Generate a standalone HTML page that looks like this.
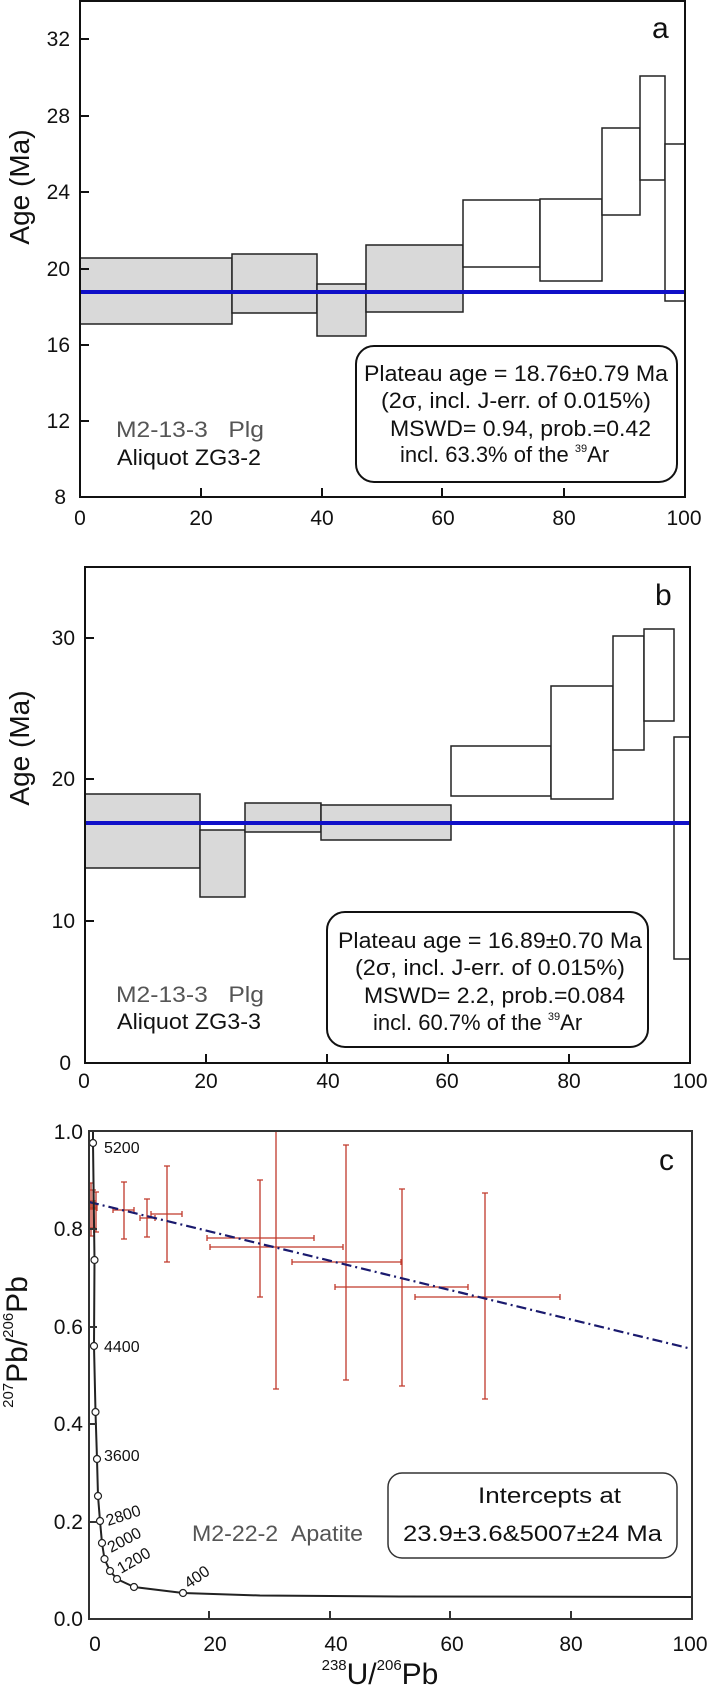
<!DOCTYPE html>
<html><head><meta charset="utf-8"><style>
html,body{margin:0;padding:0;background:#fff;}
svg{display:block;}
text{font-family:"Liberation Sans Narrow","Liberation Sans",sans-serif;fill:#111;}
</style></head><body>
<svg width="708" height="1688" viewBox="0 0 708 1688" xmlns="http://www.w3.org/2000/svg">
<!-- ===== Panel a ===== -->
<g stroke="#222" stroke-width="1.5" fill="#d9d9d9">
<rect x="80" y="258" width="152" height="66"/>
<rect x="232" y="254" width="85" height="59"/>
<rect x="317" y="284" width="49" height="52"/>
<rect x="366" y="245" width="97" height="67"/>
</g>
<g stroke="#222" stroke-width="1.5" fill="#fff">
<rect x="463" y="200" width="77" height="67"/>
<rect x="540" y="199" width="62" height="82"/>
<rect x="602" y="128" width="38" height="87"/>
<rect x="640" y="76" width="25" height="104"/>
<rect x="665" y="144" width="20" height="157"/>
</g>
<line x1="80" y1="292" x2="685" y2="292" stroke="#1010c8" stroke-width="4"/>
<rect x="80" y="1" width="605" height="496" fill="none" stroke="#111" stroke-width="2"/>
<g stroke="#111" stroke-width="2">
<line x1="80" y1="39" x2="89" y2="39"/><line x1="80" y1="116" x2="89" y2="116"/><line x1="80" y1="192" x2="89" y2="192"/><line x1="80" y1="269" x2="89" y2="269"/><line x1="80" y1="345" x2="89" y2="345"/><line x1="80" y1="421" x2="89" y2="421"/>
<line x1="201" y1="497" x2="201" y2="488"/><line x1="322" y1="497" x2="322" y2="488"/><line x1="442" y1="497" x2="442" y2="488"/><line x1="564" y1="497" x2="564" y2="488"/>
</g>
<g font-size="21" text-anchor="end">
<text x="70" y="46">32</text><text x="70" y="123">28</text><text x="70" y="199">24</text><text x="70" y="276">20</text><text x="70" y="352">16</text><text x="70" y="428">12</text><text x="66" y="504">8</text>
</g>
<g font-size="21" text-anchor="middle">
<text x="80" y="525">0</text><text x="201" y="525">20</text><text x="322" y="525">40</text><text x="443" y="525">60</text><text x="564" y="525">80</text><text x="684" y="525">100</text>
</g>
<text transform="translate(29,187) rotate(-90)" font-size="28" text-anchor="middle" font-family="Liberation Sans, sans-serif">Age (Ma)</text>
<text x="652" y="38" font-size="30" font-family="Liberation Sans, sans-serif">a</text>
<rect x="356" y="346" width="321" height="136" rx="18" fill="none" stroke="#111" stroke-width="2"/>
<g font-size="22">
<text x="364" y="381" textLength="304" lengthAdjust="spacingAndGlyphs">Plateau age = 18.76±0.79 Ma</text>
<text x="381" y="408" textLength="270" lengthAdjust="spacingAndGlyphs">(2σ, incl. J-err. of 0.015%)</text>
<text x="390" y="436" textLength="261" lengthAdjust="spacingAndGlyphs">MSWD= 0.94, prob.=0.42</text>
<text x="400" y="462">incl. 63.3% of the <tspan font-size="11" dy="-10">39</tspan><tspan dy="10">Ar</tspan></text>
<text x="116" y="437" style="fill:#555" textLength="148" lengthAdjust="spacingAndGlyphs">M2-13-3&#160;&#160;&#160;Plg</text>
<text x="117" y="465" textLength="144" lengthAdjust="spacingAndGlyphs">Aliquot ZG3-2</text>
</g>

<!-- ===== Panel b ===== -->
<g stroke="#222" stroke-width="1.5" fill="#d9d9d9">
<rect x="85" y="794" width="115" height="74"/>
<rect x="200" y="830" width="45" height="67"/>
<rect x="245" y="803" width="76" height="29"/>
<rect x="321" y="805" width="130" height="35"/>
</g>
<g stroke="#222" stroke-width="1.5" fill="#fff">
<rect x="451" y="746" width="100" height="50"/>
<rect x="551" y="686" width="62" height="113"/>
<rect x="613" y="636" width="31" height="114"/>
<rect x="644" y="629" width="30" height="92"/>
<rect x="674" y="737" width="16" height="222"/>
</g>
<line x1="85" y1="823" x2="690" y2="823" stroke="#1010c8" stroke-width="4"/>
<rect x="85" y="567" width="605" height="496" fill="none" stroke="#111" stroke-width="2"/>
<g stroke="#111" stroke-width="2">
<line x1="85" y1="638" x2="94" y2="638"/><line x1="85" y1="779" x2="94" y2="779"/><line x1="85" y1="921" x2="94" y2="921"/>
<line x1="206" y1="1063" x2="206" y2="1054"/><line x1="327" y1="1063" x2="327" y2="1054"/><line x1="448" y1="1063" x2="448" y2="1054"/><line x1="569" y1="1063" x2="569" y2="1054"/>
</g>
<g font-size="21" text-anchor="end">
<text x="75" y="645">30</text><text x="75" y="786">20</text><text x="75" y="928">10</text><text x="71" y="1070">0</text>
</g>
<g font-size="21" text-anchor="middle">
<text x="84" y="1088">0</text><text x="206" y="1088">20</text><text x="328" y="1088">40</text><text x="447" y="1088">60</text><text x="569" y="1088">80</text><text x="690" y="1088">100</text>
</g>
<text transform="translate(29,748) rotate(-90)" font-size="28" text-anchor="middle" font-family="Liberation Sans, sans-serif">Age (Ma)</text>
<text x="655" y="605" font-size="30" font-family="Liberation Sans, sans-serif">b</text>
<rect x="327" y="912" width="321" height="135" rx="18" fill="none" stroke="#111" stroke-width="2"/>
<g font-size="22">
<text x="338" y="948" textLength="304" lengthAdjust="spacingAndGlyphs">Plateau age = 16.89±0.70 Ma</text>
<text x="355" y="975" textLength="270" lengthAdjust="spacingAndGlyphs">(2σ, incl. J-err. of 0.015%)</text>
<text x="364" y="1003" textLength="261" lengthAdjust="spacingAndGlyphs">MSWD= 2.2, prob.=0.084</text>
<text x="373" y="1030">incl. 60.7% of the <tspan font-size="11" dy="-10">39</tspan><tspan dy="10">Ar</tspan></text>
<text x="116" y="1002" style="fill:#555" textLength="148" lengthAdjust="spacingAndGlyphs">M2-13-3&#160;&#160;&#160;Plg</text>
<text x="117" y="1029" textLength="144" lengthAdjust="spacingAndGlyphs">Aliquot ZG3-3</text>
</g>

<!-- ===== Panel c ===== -->
<g stroke="#c0392b" stroke-width="1.3" fill="none">
<path d="M91 1183V1236M88 1183h6M88 1236h6M93 1190V1228M90 1190h6M90 1228h6M96 1192V1232M93 1192h6M93 1232h6M89 1208h8M89 1205v6M97 1205v6"/>
<path d="M124 1182V1239M121 1182h6M121 1239h6M113 1210H134M113 1207v6M134 1207v6"/>
<path d="M147 1199V1237M144 1199h6M144 1237h6M140 1218H155M140 1215v6M155 1215v6"/>
<path d="M167 1166V1262M164 1166h6M164 1262h6M151 1214H182M151 1211v6M182 1211v6"/>
<path d="M260 1180V1297M257 1180h6M257 1297h6M207 1238H314M207 1235v6M314 1235v6"/>
<path d="M276 1131V1389M273 1389h6M210 1247H343M210 1244v6M343 1244v6"/>
<path d="M346 1145V1380M343 1145h6M343 1380h6M292 1262H401M292 1259v6M401 1259v6"/>
<path d="M402 1189V1386M399 1189h6M399 1386h6M335 1287H468M335 1284v6M468 1284v6"/>
<path d="M485 1193V1399M482 1193h6M482 1399h6M415 1297H560M415 1294v6M560 1294v6"/>
</g>
<rect x="89" y="1200" width="7" height="10" fill="#c0392b" opacity="0.7"/>
<line x1="89" y1="1202" x2="692" y2="1349" stroke="#1a1a6e" stroke-width="2.2" stroke-dasharray="10,4,2,4"/>
<path d="M93 1131 L93 1143 L94.5 1260 L94 1346 L95.5 1412 L97 1459 L98 1496 L100 1521 L102 1543 L104.5 1559 L110 1571 L117 1579 L134 1587 L183 1593 L260 1595.5 L400 1596.5 L692 1597" fill="none" stroke="#222" stroke-width="2"/>
<g fill="#fff" stroke="#222" stroke-width="1.2">
<circle cx="93" cy="1143" r="3.5"/><circle cx="94.5" cy="1260" r="3.5"/><circle cx="94" cy="1346" r="3.5"/><circle cx="95.5" cy="1412" r="3.5"/><circle cx="97" cy="1459" r="3.5"/><circle cx="98" cy="1496" r="3.5"/><circle cx="100" cy="1521" r="3.5"/><circle cx="102" cy="1543" r="3.5"/><circle cx="104.5" cy="1559" r="3.5"/><circle cx="110" cy="1571" r="3.5"/><circle cx="117" cy="1579" r="3.5"/><circle cx="134" cy="1587" r="3.5"/><circle cx="183" cy="1593" r="3.5"/>
</g>
<g font-size="16">
<text x="104" y="1153">5200</text>
<text x="104" y="1352">4400</text>
<text x="104" y="1461">3600</text>
<text transform="translate(108,1526) rotate(-18)">2800</text>
<text transform="translate(111,1553) rotate(-28)">2000</text>
<text transform="translate(121,1574) rotate(-30)">1200</text>
<text transform="translate(189,1589) rotate(-35)">400</text>
</g>
<rect x="89" y="1131" width="603" height="488" fill="none" stroke="#333" stroke-width="2"/>
<g stroke="#333" stroke-width="2">
<line x1="89" y1="1229" x2="97" y2="1229"/><line x1="89" y1="1327" x2="97" y2="1327"/><line x1="89" y1="1424" x2="97" y2="1424"/><line x1="89" y1="1522" x2="97" y2="1522"/>
<line x1="209" y1="1619" x2="209" y2="1611"/><line x1="330" y1="1619" x2="330" y2="1611"/><line x1="450" y1="1619" x2="450" y2="1611"/><line x1="571" y1="1619" x2="571" y2="1611"/>
</g>
<g font-size="21" text-anchor="end">
<text x="83" y="1139">1.0</text><text x="83" y="1236">0.8</text><text x="83" y="1334">0.6</text><text x="83" y="1431">0.4</text><text x="83" y="1529">0.2</text><text x="83" y="1626">0.0</text>
</g>
<g font-size="21" text-anchor="middle">
<text x="95" y="1651">0</text><text x="215" y="1651">20</text><text x="336" y="1651">40</text><text x="452" y="1651">60</text><text x="571" y="1651">80</text><text x="690" y="1651">100</text>
</g>
<text x="380" y="1684" font-size="30" text-anchor="middle" font-family="Liberation Sans, sans-serif"><tspan font-size="15" dy="-14">238</tspan><tspan dy="14">U/</tspan><tspan font-size="15" dy="-14">206</tspan><tspan dy="14">Pb</tspan></text>
<text transform="translate(27,1342) rotate(-90)" font-size="30" text-anchor="middle" font-family="Liberation Sans, sans-serif"><tspan font-size="15" dy="-14">207</tspan><tspan dy="14">Pb/</tspan><tspan font-size="15" dy="-14">206</tspan><tspan dy="14">Pb</tspan></text>
<text x="659" y="1170" font-size="30" font-family="Liberation Sans, sans-serif">c</text>
<rect x="388" y="1473" width="289" height="85" rx="14" fill="none" stroke="#333" stroke-width="1.5"/>
<g font-size="22">
<text x="478" y="1503" textLength="143" lengthAdjust="spacingAndGlyphs">Intercepts at</text>
<text x="403" y="1541" textLength="259" lengthAdjust="spacingAndGlyphs">23.9±3.6&amp;5007±24 Ma</text>
<text x="192" y="1541" style="fill:#555" textLength="171" lengthAdjust="spacingAndGlyphs">M2-22-2&#160;&#160;Apatite</text>
</g>
</svg>
</body></html>
